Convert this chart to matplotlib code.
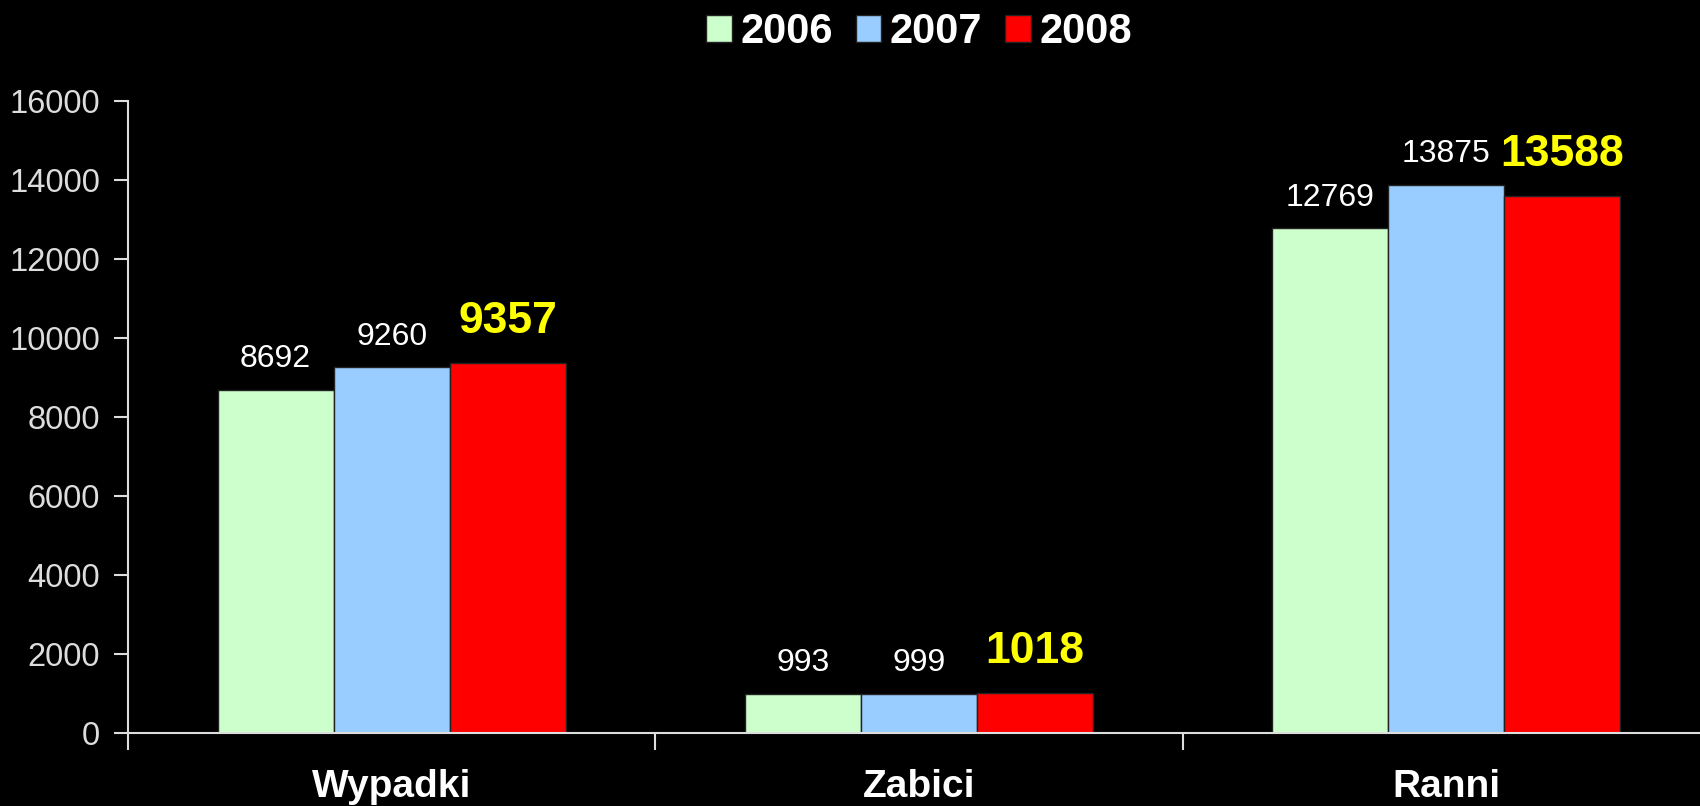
import matplotlib.pyplot as plt
import numpy as np

categories = ['Wypadki', 'Zabici', 'Ranni']
years = ['2006', '2007', '2008']
v2006 = [8692, 993, 12769]
v2007 = [9260, 999, 13875]
v2008 = [9357, 1018, 13588]
y_ticks = [0, 2000, 4000, 6000, 8000, 10000, 12000, 14000, 16000]

colors = ['#ccffcc', '#99ccff', '#ff0000']
series = [v2006, v2007, v2008]

fig = plt.figure(figsize=(17, 8.06), dpi=100, facecolor='black')
ax = fig.add_axes([0.0753, 0.0906, 0.9306, 0.7844])
ax.set_facecolor('black')

x = np.arange(len(categories))
width = 0.22
for i, (vals, col, yr) in enumerate(zip(series, colors, years)):
    pos = x + (i - 1) * width
    ax.bar(pos, vals, width, color=col, edgecolor='#222222', linewidth=1, label=yr)
    for p, v in zip(pos, vals):
        if i == 2:
            # 2008 values highlighted in bold yellow
            ax.annotate(str(v), (p, v), xytext=(0, 15), textcoords='offset points',
                        ha='center', va='bottom', color='yellow', fontsize=32,
                        fontweight='bold', family='Liberation Sans')
        else:
            ax.annotate(str(v), (p, v), xytext=(0, 11), textcoords='offset points',
                        ha='center', va='bottom', color='white', fontsize=23,
                        family='Liberation Sans')

ax.set_xlim(-0.5, 2.5)
ax.set_ylim(0, 16000)
ax.set_yticks(y_ticks)
ax.set_yticklabels([str(t) for t in y_ticks], fontsize=23.5, color='white',
                   family='Liberation Sans')
ax.tick_params(axis='y', colors='#dddddd', length=10, width=1.5, pad=10)

# category boundary ticks, labels sit between them
ax.set_xticks([-0.5, 0.5, 1.5, 2.5])
ax.set_xticklabels([])
ax.tick_params(axis='x', colors='#dddddd', length=12, width=1.5)
ax.set_xticks(x, minor=True)
ax.set_xticklabels(categories, minor=True, fontsize=28, fontweight='bold',
                   color='white', family='Liberation Sans')
ax.tick_params(axis='x', which='minor', length=0, pad=26)

for s in ['top', 'right']:
    ax.spines[s].set_visible(False)
for s in ['left', 'bottom']:
    ax.spines[s].set_color('#dddddd')
    ax.spines[s].set_linewidth(1.5)

leg = ax.legend(loc='upper center', bbox_to_anchor=(0.5, 1.2), ncol=3, frameon=False,
                handlelength=0.62, handleheight=0.62, handletextpad=0.2,
                columnspacing=0.55, prop={'family': 'Liberation Sans', 'weight': 'bold', 'size': 30})
for t in leg.get_texts():
    t.set_color('white')

fig.savefig('out.png', dpi=100, facecolor='black')
